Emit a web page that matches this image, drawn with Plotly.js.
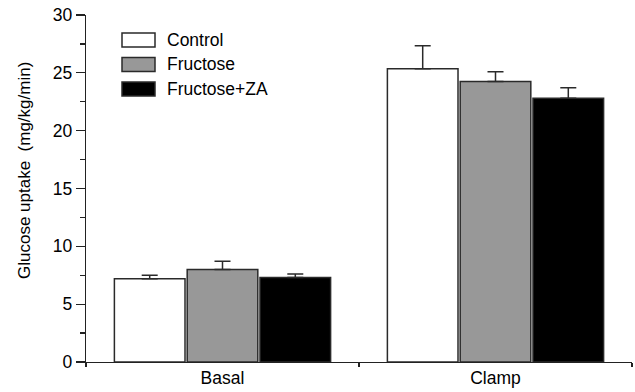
<!DOCTYPE html>
<html>
<head>
<meta charset="utf-8">
<script src="https://cdn.plot.ly/plotly-3.0.1.min.js"></script>
<style>html,body{margin:0;padding:0;background:#fff;}#chart{width:635px;height:392px;}</style>
</head>
<body>
<div id="chart"></div>
<script>
const categories = ["Basal", "Clamp"];
const seriesNames = ["Control", "Fructose", "Fructose+ZA"];
const controlValues = [7.2, 25.35];
const controlErrors = [0.3, 2.0];
const fructoseValues = [8.0, 24.25];
const fructoseErrors = [0.7, 0.85];
const fructoseZAValues = [7.3, 22.8];
const fructoseZAErrors = [0.3, 0.9];
const yTickValues = [0, 5, 10, 15, 20, 25, 30];
const yTitle = "Glucose uptake\u00a0 (mg/kg/min)";

const fills = ["#ffffff", "#989898", "#000000"];
const values = [controlValues, fructoseValues, fructoseZAValues];
const errors = [controlErrors, fructoseErrors, fructoseZAErrors];
const font = "Liberation Sans, Arial, sans-serif";

const traces = seriesNames.map((name, i) => ({
  type: "bar",
  name: name,
  x: categories,
  y: values[i],
  marker: {color: fills[i], line: {color: "#2a2a2a", width: 1.5}},
  error_y: {type: "data", symmetric: false, array: errors[i], arrayminus: errors[i].map(() => 0),
            color: "#2a2a2a", thickness: 1.5, width: 8},
  showlegend: false
}));

// manual legend (long boxes)
const shapes = [];
const annotations = [];
const rowY = [40, 64.5, 89];
seriesNames.forEach((name, i) => {
  const yc = rowY[i];
  shapes.push({type: "rect", xref: "paper", yref: "paper",
    x0: (122 - 86) / 546, x1: (155 - 86) / 546,
    y0: (362 - (yc + 7)) / 347, y1: (362 - (yc - 7)) / 347,
    fillcolor: fills[i], line: {color: "#2a2a2a", width: 1.5}});
  annotations.push({xref: "paper", yref: "paper", x: (165 - 86) / 546, y: (362 - yc) / 347,
    xanchor: "left", yanchor: "middle", showarrow: false, text: name,
    font: {family: font, size: 17.5, color: "#000"}});
});
annotations.push({xref: "paper", yref: "paper", x: (24 - 86) / 546, y: (362 - 171) / 347,
  xanchor: "center", yanchor: "middle", showarrow: false, textangle: -90, text: yTitle,
  font: {family: font, size: 17, color: "#000"}});

const layout = {
  width: 635, height: 392,
  margin: {l: 86, r: 3, t: 15, b: 30, pad: 0},
  paper_bgcolor: "#fff", plot_bgcolor: "#fff",
  barmode: "group", bargap: 0.2, bargroupgap: 0.03,
  font: {family: font, size: 17, color: "#000"},
  xaxis: {type: "category", range: [-0.5, 1.5], showline: true, linecolor: "#222", linewidth: 1.3,
    ticks: "outside", tickson: "boundaries", ticklen: 4, tickcolor: "#222", tickwidth: 1.3,
    showgrid: false, zeroline: false, fixedrange: true,
    tickfont: {family: font, size: 17.5, color: "#000"}},
  yaxis: {range: [0, 30], tickvals: yTickValues, ticktext: yTickValues.map(String),
    showline: true, linecolor: "#222", linewidth: 1.3, ticks: "outside", ticklen: 9,
    tickcolor: "#222", tickwidth: 1.3, showgrid: false, zeroline: false,
    minor: {dtick: 2.5, ticks: "outside", ticklen: 5, tickcolor: "#222", tickwidth: 1.3, showgrid: false},
    tickfont: {family: font, size: 17.5, color: "#000"}},
  shapes: shapes,
  annotations: annotations
};

Plotly.newPlot("chart", traces, layout, {displayModeBar: false, staticPlot: true});
</script>
</body>
</html>
